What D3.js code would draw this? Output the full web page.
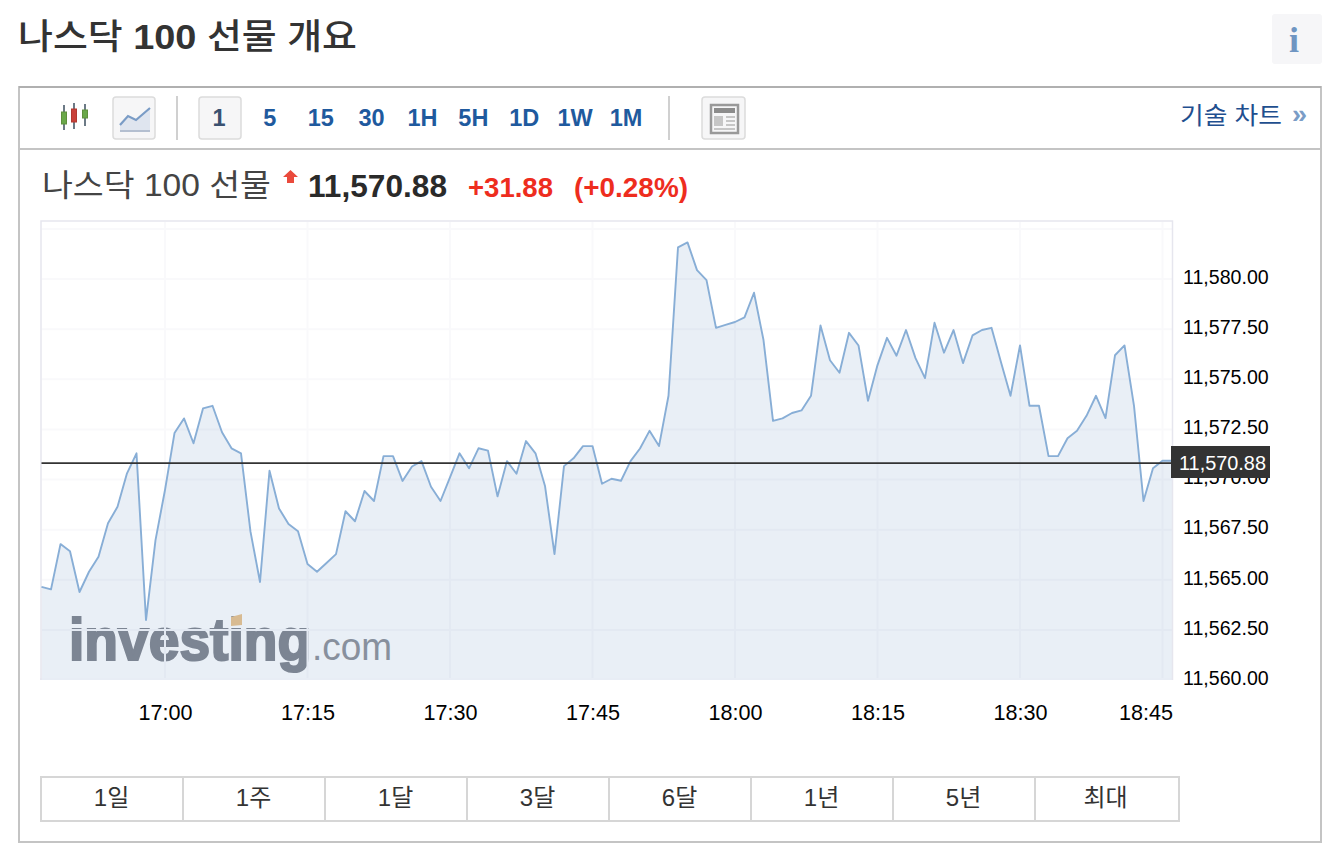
<!DOCTYPE html>
<html>
<head>
<meta charset="utf-8">
<script src="https://d3js.org/d3.v7.min.js"></script>
<style>
  html, body { margin: 0; padding: 0; background: #fff; }
  svg { display: block; }
  text { font-family: "Liberation Sans", "Noto Sans CJK KR", sans-serif; }
</style>
</head>
<body>
<div id="vis"></div>
<script>
const layout = {
  width: 1342,
  height: 860,
  left: 41.5,
  right: 1172,
  top: 229,
  bottom: 680
};

// minute-by-minute prices, first one at 16:47
const startTime = "16:47";
const prices = [
  11564.65, 11564.52, 11566.78, 11566.42, 11564.39, 11565.40, 11566.15, 11567.82, 11568.64, 11570.31,
  11571.31, 11562.99, 11566.98, 11569.48, 11572.32, 11573.05, 11571.81, 11573.55, 11573.68, 11572.36,
  11571.56, 11571.31, 11567.40, 11564.89, 11570.44, 11568.56, 11567.78, 11567.42, 11565.79, 11565.40,
  11565.84, 11566.28, 11568.42, 11567.92, 11569.43, 11568.93, 11571.17, 11571.17, 11569.93, 11570.65,
  11570.92, 11569.64, 11568.93, 11570.11, 11571.31, 11570.56, 11571.56, 11571.44, 11569.16, 11570.92,
  11570.29, 11571.92, 11571.31, 11569.68, 11566.28, 11570.67, 11571.06, 11571.67, 11571.67, 11569.79,
  11570.04, 11569.94, 11570.92, 11571.55, 11572.43, 11571.67, 11574.18, 11581.58, 11581.83, 11580.45,
  11579.95, 11577.57, 11577.72, 11577.86, 11578.09, 11579.32, 11576.96, 11572.93, 11573.05, 11573.32,
  11573.45, 11574.18, 11577.69, 11575.95, 11575.33, 11577.32, 11576.69, 11573.93, 11575.71, 11577.07,
  11576.18, 11577.46, 11576.06, 11575.06, 11577.82, 11576.33, 11577.46, 11575.81, 11577.19, 11577.46,
  11577.57, 11575.85, 11574.18, 11576.69, 11573.68, 11573.68, 11571.17, 11571.17, 11572.06, 11572.43,
  11573.18, 11574.18, 11573.07, 11576.20, 11576.69, 11573.68, 11568.93, 11570.56, 11570.94, 11570.94
];

const priceTicks = [11560, 11562.5, 11565, 11567.5, 11570, 11572.5, 11575, 11577.5, 11580];
const priceGrid = [11562.5, 11565, 11567.5, 11570, 11572.5, 11575, 11577.5, 11580, 11582.5];
const timeTicks = ["17:00", "17:15", "17:30", "17:45", "18:00", "18:15", "18:30", "18:45"];
const lastPrice = 11570.88;
const priceLineLevel = 11570.82;

const intervals = ["1", "5", "15", "30", "1H", "5H", "1D", "1W", "1M"];
const ranges = ["1일", "1주", "1달", "3달", "6달", "1년", "5년", "최대"];

function toMinutes(label) {
  let parts = label.split(":");
  return +parts[0] * 60 + +parts[1];
}

let svg = d3.select("#vis").append("svg")
  .attr("width", layout.width)
  .attr("height", layout.height)
  .attr("viewBox", [0, 0, layout.width, layout.height].join(" "));

// text with a forced width, the source font runs narrower than ours
function label(x, y, str, size, color, width, weight) {
  let t = svg.append("text")
    .attr("x", x).attr("y", y)
    .attr("font-size", size)
    .attr("fill", color)
    .attr("font-weight", weight || 400)
    .text(str);
  if (width) t.attr("textLength", width).attr("lengthAdjust", "spacingAndGlyphs");
  return t;
}

// PAGE TITLE + INFO BUTTON
let title = label(18, 48.5, "", 35, "#333", 339, 500);
title.append("tspan").text("나스닥 ");
title.append("tspan").attr("font-weight", 700).text("100");
title.append("tspan").text(" 선물 개요");

svg.append("rect").attr("x", 1272).attr("y", 14).attr("width", 50).attr("height", 50).attr("rx", 3).attr("fill", "#f6f6f8");
svg.append("text").attr("x", 1294).attr("y", 52).attr("text-anchor", "middle")
  .attr("font-size", 36).attr("font-weight", 700).attr("fill", "#6f95c2")
  .style("font-family", "'Liberation Serif', serif").text("i");

// OUTER BOX
svg.append("rect").attr("x", 19).attr("y", 87).attr("width", 1302).attr("height", 755)
  .attr("fill", "#fff").attr("stroke", "#c4c4c4").attr("stroke-width", 2);
svg.append("line").attr("x1", 19).attr("x2", 1321).attr("y1", 87).attr("y2", 87).attr("stroke", "#b0b0b0").attr("stroke-width", 2);
svg.append("line").attr("x1", 19).attr("x2", 1321).attr("y1", 149).attr("y2", 149).attr("stroke", "#c4c4c4").attr("stroke-width", 2);

// TOOLBAR
[177, 669].forEach(x => svg.append("line").attr("x1", x).attr("x2", x).attr("y1", 96).attr("y2", 140)
  .attr("stroke", "#c0c0c0").attr("stroke-width", 1.5));
[[113, 42], [199, 42], [702, 43]].forEach(b => svg.append("rect")
  .attr("x", b[0]).attr("y", 97).attr("width", b[1]).attr("height", 42).attr("rx", 3)
  .attr("fill", "#f6f6f7").attr("stroke", "#dcdcdc").attr("stroke-width", 1.5));

// candle icon
[[64, 105, 130, "#6aa84a", 112, 124, "#5f8f3e"], [74, 103, 129, "#c9413a", 109, 122, "#b03a32"], [85, 104, 126, "#6aa84a", 110, 118, "#5f8f3e"]].forEach(c => {
  svg.append("line").attr("x1", c[0]).attr("x2", c[0]).attr("y1", c[1]).attr("y2", c[2]).attr("stroke", "#6c7a86").attr("stroke-width", 2);
  svg.append("rect").attr("x", c[0] - 2.5).attr("y", c[4]).attr("width", 5).attr("height", c[5] - c[4]).attr("fill", c[3]).attr("stroke", c[6]);
});

// mountain icon
svg.append("path").attr("d", "M120 125 L128 116 L136 120 L150 108 L150 130 L120 130 Z").attr("fill", "#dfe5ef");
svg.append("path").attr("d", "M120 125 L128 116 L136 120 L150 108").attr("fill", "none").attr("stroke", "#7a9cc6").attr("stroke-width", 2.2);
svg.append("line").attr("x1", 120).attr("x2", 150).attr("y1", 131).attr("y2", 131).attr("stroke", "#b4bfd0").attr("stroke-width", 2);

// news icon
svg.append("rect").attr("x", 711).attr("y", 105).attr("width", 27).attr("height", 28).attr("fill", "#f6f6f7").attr("stroke", "#999").attr("stroke-width", 2.5);
svg.append("rect").attr("x", 714).attr("y", 108).attr("width", 21).attr("height", 5).attr("fill", "#8c8c8c");
svg.append("rect").attr("x", 714).attr("y", 116).attr("width", 9).attr("height", 10).attr("fill", "#c6c6c6");
[117, 121, 125].forEach(y => svg.append("line").attr("x1", 726).attr("x2", 735).attr("y1", y).attr("y2", y).attr("stroke", "#c6c6c6").attr("stroke-width", 2));
svg.append("line").attr("x1", 714).attr("x2", 735).attr("y1", 129).attr("y2", 129).attr("stroke", "#c6c6c6").attr("stroke-width", 2);

let intervalX = d3.scalePoint().domain(intervals).range([219, 626]);
svg.append("g").selectAll("text").data(intervals).join("text")
  .attr("x", d => intervalX(d))
  .attr("y", 126)
  .attr("text-anchor", "middle")
  .attr("font-size", 23.5)
  .attr("font-weight", 700)
  .attr("fill", d => d === "1" ? "#3a5170" : "#1f5a9e")
  .text(d => d);

label(1180, 124, "기술 차트", 24, "#1f4f8f", 102);
label(1292, 123, "»", 26, "#7a9cc6", 15, 700);

// QUOTE LINE
label(42, 196, "나스닥 100 선물", 31, "#444", 229);
svg.append("path").attr("d", "M290.5 170 L298 177 L294 177 L294 183 L287 183 L287 177 L283 177 Z").attr("fill", "#ea4a3c");
label(308, 197, "11,570.88", 31.5, "#2a2a2a", 139, 700);
label(468, 197, "+31.88", 28, "#ee2d1e", 85, 700);
label(574, 197, "(+0.28%)", 28, "#ee2d1e", 114, 700);

// SCALES
let startMinute = toMinutes(startTime);
let xScale = d3.scaleLinear()
  .domain([startMinute, startMinute + prices.length - 1])
  .range([layout.left, layout.right]);
let yScale = d3.scaleLinear()
  .domain([11560, 11582.5])
  .range([layout.bottom, layout.top]);

// LOGO, sits under grid and area
let logo = svg.append("g");
logo.append("text").attr("transform", "translate(69,660) scale(0.92,1)")
  .attr("font-size", 60).attr("font-weight", 700)
  .attr("fill", "#82858d").attr("stroke", "#82858d").attr("stroke-width", 2.2)
  .text("investing");
logo.append("text").attr("x", 312).attr("y", 660)
  .attr("font-size", 38).attr("fill", "#8f9299")
  .attr("textLength", 80).attr("lengthAdjust", "spacingAndGlyphs")
  .text(".com");
logo.append("path").attr("d", "M231 617 L242 614 L242 625 L231 626 Z").attr("fill", "#ecc48c");

// GRID
let grid = svg.append("g").attr("stroke", "#f9f9fb").attr("stroke-width", 2);
grid.selectAll(".h").data(priceGrid).join("line").attr("class", "h")
  .attr("x1", layout.left).attr("x2", layout.right)
  .attr("y1", d => yScale(d)).attr("y2", d => yScale(d));
grid.selectAll(".v").data(timeTicks).join("line").attr("class", "v")
  .attr("x1", d => xScale(toMinutes(d))).attr("x2", d => xScale(toMinutes(d)))
  .attr("y1", 222).attr("y2", layout.bottom);

// AREA + LINE
let series = prices.map((p, i) => ({ minute: startMinute + i, price: p }));
svg.append("path").datum(series)
  .attr("fill", "#5a88b8")
  .attr("fill-opacity", 0.135)
  .attr("d", d3.area().x(d => xScale(d.minute)).y0(layout.bottom).y1(d => yScale(d.price)));
svg.append("rect").attr("x", 40).attr("y", 678).attr("width", 1133).attr("height", 2).attr("fill", "#e8edf5");

// frame
svg.append("path").attr("d", `M41 680 V221 H1172.5 V680`)
  .attr("fill", "none").attr("stroke", "#e6e6ee").attr("stroke-width", 1.5);

svg.append("path").datum(series)
  .attr("fill", "none")
  .attr("stroke", "#88aed6")
  .attr("stroke-width", 1.9)
  .attr("stroke-linejoin", "round")
  .attr("d", d3.line().x(d => xScale(d.minute)).y(d => yScale(d.price)));

// AXES
let yAxis = svg.append("g")
  .attr("transform", `translate(${layout.right + 11},-2)`)
  .call(d3.axisRight(yScale).tickValues(priceTicks).tickSize(0).tickPadding(0).tickFormat(d3.format(",.2f")));
yAxis.select(".domain").remove();
yAxis.selectAll("text").attr("fill", "#000").attr("font-size", 19.6).style("font-family", null);

let xAxis = svg.append("g")
  .attr("transform", `translate(0,${layout.bottom + 24.5})`)
  .call(d3.axisBottom(xScale)
    .tickValues(timeTicks.map(toMinutes))
    .tickSize(0)
    .tickPadding(0)
    .tickFormat((d, i) => timeTicks[i]));
xAxis.select(".domain").remove();
xAxis.selectAll("text").attr("fill", "#000").attr("font-size", 21.6).style("font-family", null);
// last time label is pulled in so it stays inside the plot
xAxis.selectAll("text").filter(d => d === toMinutes("18:45")).attr("text-anchor", "end").attr("x", 10);

// PRICE LINE + TAG
svg.append("line")
  .attr("x1", layout.left).attr("x2", layout.right)
  .attr("y1", yScale(priceLineLevel)).attr("y2", yScale(priceLineLevel))
  .attr("stroke", "#333").attr("stroke-width", 1.8);
svg.append("rect").attr("x", 1171).attr("y", 446).attr("width", 99).attr("height", 32).attr("fill", "#333");
svg.append("text").attr("x", 1222.5).attr("y", 470).attr("text-anchor", "middle")
  .attr("font-size", 19.6).attr("fill", "#fff").attr("textLength", 87).attr("lengthAdjust", "spacingAndGlyphs")
  .text(d3.format(",.2f")(lastPrice));

// RANGE BUTTONS
let rangeX = d3.scaleBand().domain(ranges).range([41, 1177]);
let rangeGroup = svg.append("g");
rangeGroup.selectAll("rect").data(ranges).join("rect")
  .attr("x", d => rangeX(d))
  .attr("y", 777)
  .attr("width", (d, i) => i === ranges.length - 1 ? rangeX.bandwidth() + 2 : rangeX.bandwidth())
  .attr("height", 44)
  .attr("fill", "#fff")
  .attr("stroke", "#d6d6d6")
  .attr("stroke-width", 2);
rangeGroup.selectAll("text").data(ranges).join("text")
  .attr("x", d => rangeX(d) + rangeX.bandwidth() / 2 - 0.5)
  .attr("y", 806)
  .attr("text-anchor", "middle")
  .attr("font-size", 24)
  .attr("fill", "#333")
  .text(d => d);
</script>
</body>
</html>
